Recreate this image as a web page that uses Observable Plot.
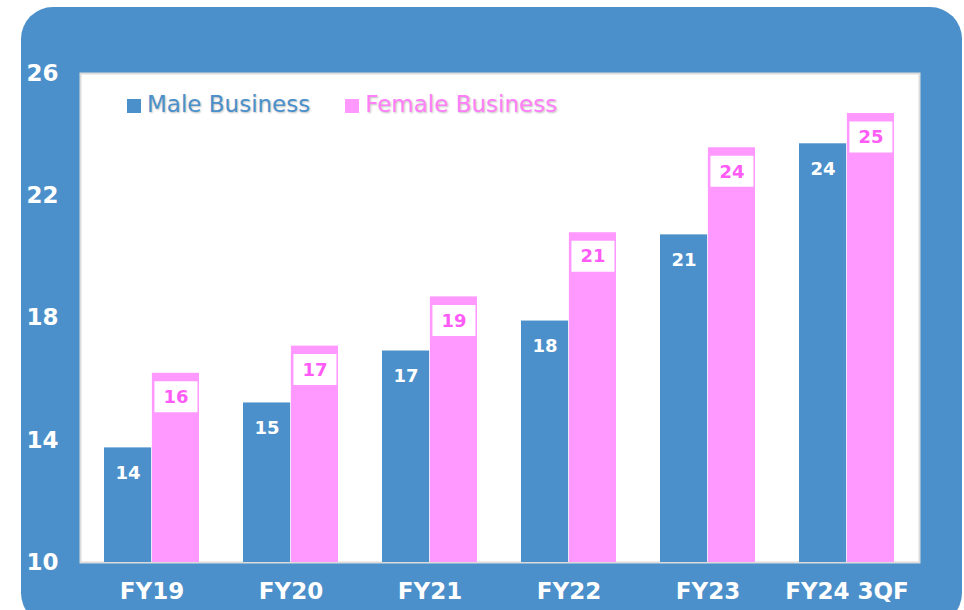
<!DOCTYPE html>
<html>
<head>
<meta charset="utf-8">
<script src="https://cdn.jsdelivr.net/npm/d3@7"></script>
<script src="https://cdn.jsdelivr.net/npm/@observablehq/plot@0.6"></script>
<style>
  html, body { margin: 0; padding: 0; background: #ffffff; overflow: hidden; }
  #wrap { position: relative; width: 964px; height: 610px; }
  #bg { position: absolute; left: 21px; top: 7px; width: 941px; height: 618px; border-radius: 32px; background: #4b90ca; }
  #chart { position: absolute; left: 0; top: 0; }
  #legend { position: absolute; left: 127px; top: 91px; display: flex; align-items: center; font-family: "DejaVu Sans", Verdana, sans-serif; font-size: 23px; }
  .item { display: flex; align-items: center; margin-right: 35px; }
  .sw { width: 14px; height: 14px; margin-right: 6px; margin-top: 3px; }
  .lab { text-shadow: 1px 1px 2px rgba(0,0,0,0.25); }
  #chart svg text { font-weight: bold; }
</style>
</head>
<body>
<div id="wrap">
  <div id="bg"></div>
  <div id="chart"></div>
  <div id="legend"></div>
</div>
<script>
const years = ["FY19", "FY20", "FY21", "FY22", "FY23", "FY24 3QF"];
const male = [13.75, 15.22, 16.92, 17.9, 20.72, 23.7];
const female = [16.19, 17.08, 18.69, 20.79, 23.57, 24.69];
const yTicks = [10, 14, 18, 22, 26];
const seriesNames = ["Male Business", "Female Business"];

const blue = "#4b90ca";
const pink = "#ff99ff";
const labelPink = "#ff5cf7";

const rows = years.map((year, i) => ({year, male: male[i], female: female[i]}));

const W = 964, H = 610, mL = 80, mR = 45, mT = 73, mB = 48;
const pInner = 0.3133, pOuter = 0.1645;
const step = (W - mL - mR) / (years.length - pInner + 2 * pOuter);
const half = step * (1 - pInner) / 2;

const boxSymbol = {
  draw(context) { context.rect(-21.5, -15.5, 43, 31); }
};

const chart = Plot.plot({
  width: W, height: H,
  marginLeft: mL, marginRight: mR, marginTop: mT, marginBottom: mB,
  style: {background: "transparent", color: "white", fontFamily: "DejaVu Sans, Verdana, sans-serif", fontWeight: "bold", overflow: "visible"},
  x: {domain: years, paddingInner: pInner, paddingOuter: pOuter, label: null},
  y: {domain: [10, 26], label: null},
  marks: [
    Plot.frame({fill: "white", stroke: "#dcdcdc", strokeWidth: 2}),
    Plot.barY(rows, {x: "year", y1: 10, y2: "male", fill: blue, insetRight: half}),
    Plot.barY(rows, {x: "year", y1: 10, y2: "female", fill: pink, insetLeft: half}),
    Plot.text(rows, {x: "year", y: "male", dx: -half / 2, dy: 25, text: d => String(Math.round(d.male)), fill: "white", fontWeight: "bold", fontSize: 18}),
    Plot.dot(rows, {x: "year", y: "female", dx: half / 2, dy: 23.5, symbol: boxSymbol, fill: "white", stroke: "none"}),
    Plot.text(rows, {x: "year", y: "female", dx: half / 2, dy: 24, text: d => String(Math.round(d.female)), fill: labelPink, fontWeight: "bold", fontSize: 18}),
    Plot.axisX({tickSize: 0, tickPadding: 20, fontSize: 23, fontWeight: "bold", fill: "white", label: null}),
    Plot.axisY({ticks: yTicks, tickSize: 0, tickPadding: 22, fontSize: 23, fontWeight: "bold", fill: "white", label: null})
  ]
});
document.getElementById("chart").appendChild(chart);

const legend = document.getElementById("legend");
[[seriesNames[0], blue, blue], [seriesNames[1], pink, "#ff7ff9"]].forEach(([name, sw, col]) => {
  const it = document.createElement("div");
  it.className = "item";
  it.innerHTML = `<div class="sw" style="background:${sw}"></div><span class="lab" style="color:${col}">${name}</span>`;
  legend.appendChild(it);
});
</script>
</body>
</html>
